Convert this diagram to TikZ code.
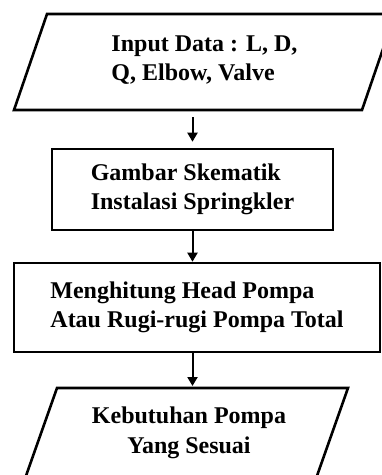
\documentclass[tikz,border=0pt]{standalone}
\usepackage{fontspec}
\setmainfont{Liberation Serif}
\usetikzlibrary{arrows.meta}

\tikzset{
        flowtext/.style={font=\bfseries\fontsize{24}{29.5}\selectfont, align=left, inner sep=0pt},
        boxline/.style={draw, line width=2.6pt, line join=miter},
        procbox/.style={flowtext, boxline, rectangle},
        flowarrow/.style={line width=2pt, -{Triangle[length=9pt,width=10pt]}}
}

\begin{document}
\begin{tikzpicture}[x=1pt, y=-1pt]
        \useasboundingbox (0, 0) rectangle (382, 475);
        \clip (0, 0) rectangle (382, 475);

        % input parallelogram
        \draw[boxline] (47, 14) -- (395, 14) -- (362, 110) -- (14, 110) -- cycle;
        \coordinate (inputbot) at (204.5, 110);
        \node[flowtext] (input) at (204.5, 60) {Input Data : L, D,\\Q, Elbow, Valve};

        \node[procbox, minimum width=281, minimum height=81] (skema) at (192.5, 189.5)
                {Gambar Skematik\\Instalasi Springkler};
        \node[procbox, minimum width=366, minimum height=89] (head) at (197, 307.5)
                {Menghitung Head Pompa\\Atau Rugi-rugi Pompa Total};

        % output parallelogram
        \draw[boxline] (57, 388) -- (348, 388) -- (312, 490) -- (21, 490) -- cycle;
        \coordinate (pompatop) at (202.5, 388);
        \node[flowtext, align=center] (pompa) at (189, 433) {Kebutuhan Pompa\\Yang Sesuai};

        % arrows
        \draw[flowarrow, shorten <=7pt, shorten >=6pt] (skema.north |- inputbot) -- (skema.north);
        \draw[flowarrow] (skema.south) -- (skema.south |- head.north);
        \draw[flowarrow, shorten >=2pt] (skema.south |- head.south) -- (skema.south |- pompatop);
\end{tikzpicture}
\end{document}
